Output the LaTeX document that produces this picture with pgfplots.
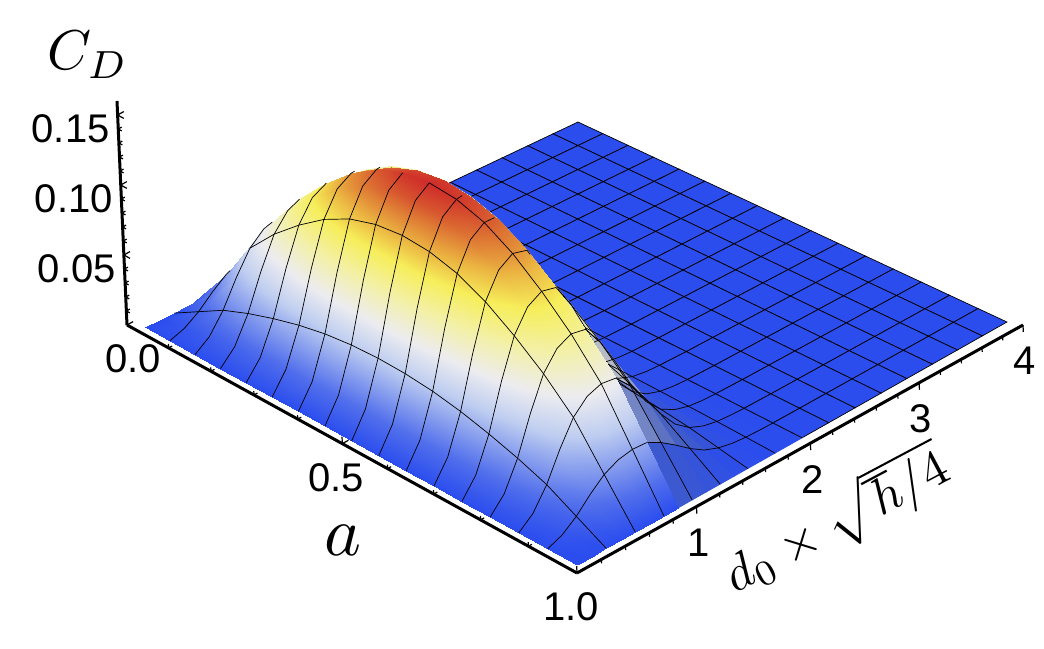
\documentclass[border=0pt]{standalone}
\usepackage{fontspec}
\setmainfont{Liberation Sans}
\usepackage{pgfplots}
\usepackage{pgfplotstable}
\usetikzlibrary{calc}
\pgfplotsset{compat=1.18}
\newcommand\W{(1-0.08263*\thisrow{a}+0.022425*\thisrow{d})}
\newcommand\X{(0.8785*\thisrow{a}+0.0201*\thisrow{d}+0.0241)/\W}
\newcommand\Y{(-0.00496*\thisrow{a}+0.9803*\thisrow{d}+0.0644)/\W}
\newcommand\Z{\thisrow{C}/\W}
\pgfplotstableread[row sep=\\]{
a d C\\
0 4 0\\.0625 4 0\\.125 4 0\\.1875 4 0\\.25 4 0\\.3125 4 0\\.375 4 0\\.4375 4 0\\.5 4 0\\.5625 4 0\\.625 4 0\\.6875 4 0\\.75 4 0\\.8125 4 0\\.875 4 0\\.9375 4 0\\1 4 0\\
0 3.75 0\\.0625 3.75 0\\.125 3.75 0\\.1875 3.75 0\\.25 3.75 0\\.3125 3.75 0\\.375 3.75 0\\.4375 3.75 0\\.5 3.75 0\\.5625 3.75 0\\.625 3.75 0\\.6875 3.75 0\\.75 3.75 0\\.8125 3.75 0\\.875 3.75 0\\.9375 3.75 0\\1 3.75 0\\
0 3.5 0\\.0625 3.5 0\\.125 3.5 0\\.1875 3.5 0\\.25 3.5 0\\.3125 3.5 0\\.375 3.5 0\\.4375 3.5 0\\.5 3.5 0\\.5625 3.5 0\\.625 3.5 0\\.6875 3.5 0\\.75 3.5 0\\.8125 3.5 0\\.875 3.5 0\\.9375 3.5 0\\1 3.5 0\\
0 3.25 0\\.0625 3.25 0\\.125 3.25 0\\.1875 3.25 0\\.25 3.25 0\\.3125 3.25 0\\.375 3.25 0\\.4375 3.25 0\\.5 3.25 0\\.5625 3.25 0\\.625 3.25 0\\.6875 3.25 0\\.75 3.25 0\\.8125 3.25 0\\.875 3.25 0\\.9375 3.25 0\\1 3.25 0\\
0 3 0\\.0625 3 0\\.125 3 0\\.1875 3 0\\.25 3 0\\.3125 3 0\\.375 3 0\\.4375 3 0\\.5 3 0\\.5625 3 0\\.625 3 0\\.6875 3 0\\.75 3 0\\.8125 3 0\\.875 3 0\\.9375 3 0\\1 3 0\\
0 2.75 0\\.0625 2.75 0\\.125 2.75 0\\.1875 2.75 0\\.25 2.75 0\\.3125 2.75 0\\.375 2.75 0\\.4375 2.75 0\\.5 2.75 0\\.5625 2.75 0\\.625 2.75 0\\.6875 2.75 0\\.75 2.75 0\\.8125 2.75 0\\.875 2.75 0\\.9375 2.75 0\\1 2.75 0\\
0 2.5 0\\.0625 2.5 0\\.125 2.5 0\\.1875 2.5 0\\.25 2.5 0\\.3125 2.5 0\\.375 2.5 0\\.4375 2.5 0\\.5 2.5 0\\.5625 2.5 0\\.625 2.5 0\\.6875 2.5 0\\.75 2.5 0\\.8125 2.5 0\\.875 2.5 0\\.9375 2.5 0\\1 2.5 0\\
0 2.25 0\\.0625 2.25 0\\.125 2.25 0\\.1875 2.25 0\\.25 2.25 0\\.3125 2.25 0\\.375 2.25 0\\.4375 2.25 0\\.5 2.25 0\\.5625 2.25 0\\.625 2.25 0\\.6875 2.25 0\\.75 2.25 0\\.8125 2.25 0\\.875 2.25 0\\.9375 2.25 0\\1 2.25 0\\
0 2 0\\.0625 2 .0001\\.125 2 .0002\\.1875 2 .0003\\.25 2 .0003\\.3125 2 .0004\\.375 2 .0004\\.4375 2 .0004\\.5 2 .0005\\.5625 2 .0004\\.625 2 .0004\\.6875 2 .0004\\.75 2 .0003\\.8125 2 .0003\\.875 2 .0002\\.9375 2 .0001\\1 2 0\\
}\B
\pgfplotstableread[row sep=\\]{
a d C\\
0 2 0\\.0625 2 .0001\\.125 2 .0002\\.1875 2 .0003\\.25 2 .0003\\.3125 2 .0004\\.375 2 .0004\\.4375 2 .0004\\.5 2 .0005\\.5625 2 .0004\\.625 2 .0004\\.6875 2 .0004\\.75 2 .0003\\.8125 2 .0003\\.875 2 .0002\\.9375 2 .0001\\1 2 0\\
0 1.875 0\\.0625 1.875 .0003\\.125 1.875 .0006\\.1875 1.875 .0007\\.25 1.875 .0009\\.3125 1.875 .0010\\.375 1.875 .0011\\.4375 1.875 .0012\\.5 1.875 .0012\\.5625 1.875 .0012\\.625 1.875 .0011\\.6875 1.875 .0010\\.75 1.875 .0009\\.8125 1.875 .0007\\.875 1.875 .0006\\.9375 1.875 .0003\\1 1.875 0\\
0 1.75 0\\.0625 1.75 .0007\\.125 1.75 .0014\\.1875 1.75 .0019\\.25 1.75 .0023\\.3125 1.75 .0026\\.375 1.75 .0028\\.4375 1.75 .0030\\.5 1.75 .0030\\.5625 1.75 .0030\\.625 1.75 .0028\\.6875 1.75 .0026\\.75 1.75 .0023\\.8125 1.75 .0019\\.875 1.75 .0014\\.9375 1.75 .0007\\1 1.75 0\\
0 1.625 0\\.0625 1.625 .0017\\.125 1.625 .0035\\.1875 1.625 .0047\\.25 1.625 .0056\\.3125 1.625 .0065\\.375 1.625 .0071\\.4375 1.625 .0074\\.5 1.625 .0075\\.5625 1.625 .0074\\.625 1.625 .0071\\.6875 1.625 .0065\\.75 1.625 .0056\\.8125 1.625 .0047\\.875 1.625 .0035\\.9375 1.625 .0017\\1 1.625 0\\
0 1.5 0\\.0625 1.5 .0038\\.125 1.5 .0076\\.1875 1.5 .0102\\.25 1.5 .0124\\.3125 1.5 .0142\\.375 1.5 .0155\\.4375 1.5 .0163\\.5 1.5 .0165\\.5625 1.5 .0163\\.625 1.5 .0155\\.6875 1.5 .0142\\.75 1.5 .0124\\.8125 1.5 .0102\\.875 1.5 .0076\\.9375 1.5 .0038\\1 1.5 0\\
0 1.375 0\\.0625 1.375 .0076\\.125 1.375 .0152\\.1875 1.375 .0205\\.25 1.375 .0248\\.3125 1.375 .0284\\.375 1.375 .0310\\.4375 1.375 .0325\\.5 1.375 .0330\\.5625 1.375 .0325\\.625 1.375 .0310\\.6875 1.375 .0284\\.75 1.375 .0248\\.8125 1.375 .0205\\.875 1.375 .0152\\.9375 1.375 .0076\\1 1.375 0\\
0 1.25 0\\.0625 1.25 .0138\\.125 1.25 .0276\\.1875 1.25 .0372\\.25 1.25 .0450\\.3125 1.25 .0516\\.375 1.25 .0564\\.4375 1.25 .0591\\.5 1.25 .0600\\.5625 1.25 .0591\\.625 1.25 .0564\\.6875 1.25 .0516\\.75 1.25 .0450\\.8125 1.25 .0372\\.875 1.25 .0276\\.9375 1.25 .0138\\1 1.25 0\\
0 1.125 0\\.0625 1.125 .0214\\.125 1.125 .0428\\.1875 1.125 .0577\\.25 1.125 .0698\\.3125 1.125 .0800\\.375 1.125 .0874\\.4375 1.125 .0916\\.5 1.125 .0930\\.5625 1.125 .0916\\.625 1.125 .0874\\.6875 1.125 .0800\\.75 1.125 .0698\\.8125 1.125 .0577\\.875 1.125 .0428\\.9375 1.125 .0214\\1 1.125 0\\
0 1 0\\.0625 1 .0283\\.125 1 .0566\\.1875 1 .0763\\.25 1 .0923\\.3125 1 .1058\\.375 1 .1156\\.4375 1 .1212\\.5 1 .1230\\.5625 1 .1212\\.625 1 .1156\\.6875 1 .1058\\.75 1 .0923\\.8125 1 .0763\\.875 1 .0566\\.9375 1 .0283\\1 1 0\\
0 .875 0\\.0625 .875 .0335\\.125 .875 .0669\\.1875 .875 .0902\\.25 .875 .1091\\.3125 .875 .1251\\.375 .875 .1368\\.4375 .875 .1433\\.5 .875 .1455\\.5625 .875 .1433\\.625 .875 .1368\\.6875 .875 .1251\\.75 .875 .1091\\.8125 .875 .0902\\.875 .875 .0669\\.9375 .875 .0335\\1 .875 0\\
}\TA
\pgfplotstableread[row sep=\\]{
a d C\\
0 .875 0\\.0625 .875 .0335\\.125 .875 .0669\\.1875 .875 .0902\\.25 .875 .1091\\.3125 .875 .1251\\.375 .875 .1368\\.4375 .875 .1433\\.5 .875 .1455\\.5625 .875 .1433\\.625 .875 .1368\\.6875 .875 .1251\\.75 .875 .1091\\.8125 .875 .0902\\.875 .875 .0669\\.9375 .875 .0335\\1 .875 0\\
0 .75 0\\.0625 .75 .0342\\.125 .75 .0683\\.1875 .75 .0921\\.25 .75 .1114\\.3125 .75 .1277\\.375 .75 .1396\\.4375 .75 .1463\\.5 .75 .1485\\.5625 .75 .1463\\.625 .75 .1396\\.6875 .75 .1277\\.75 .75 .1114\\.8125 .75 .0921\\.875 .75 .0683\\.9375 .75 .0342\\1 .75 0\\
0 .625 0\\.0625 .625 .0324\\.125 .625 .0649\\.1875 .625 .0874\\.25 .625 .1058\\.3125 .625 .1213\\.375 .625 .1325\\.4375 .625 .1389\\.5 .625 .1410\\.5625 .625 .1389\\.625 .625 .1325\\.6875 .625 .1213\\.75 .625 .1058\\.8125 .625 .0874\\.875 .625 .0649\\.9375 .625 .0324\\1 .625 0\\
0 .5 0\\.0625 .5 .0279\\.125 .5 .0559\\.1875 .5 .0753\\.25 .5 .0911\\.3125 .5 .1045\\.375 .5 .1142\\.4375 .5 .1197\\.5 .5 .1215\\.5625 .5 .1197\\.625 .5 .1142\\.6875 .5 .1045\\.75 .5 .0911\\.8125 .5 .0753\\.875 .5 .0559\\.9375 .5 .0279\\1 .5 0\\
0 .375 0\\.0625 .375 .0200\\.125 .375 .0400\\.1875 .375 .0539\\.25 .375 .0653\\.3125 .375 .0748\\.375 .375 .0818\\.4375 .375 .0857\\.5 .375 .0870\\.5625 .375 .0857\\.625 .375 .0818\\.6875 .375 .0748\\.75 .375 .0653\\.8125 .375 .0539\\.875 .375 .0400\\.9375 .375 .0200\\1 .375 0\\
0 .25 0\\.0625 .25 .0107\\.125 .25 .0214\\.1875 .25 .0288\\.25 .25 .0349\\.3125 .25 .0400\\.375 .25 .0437\\.4375 .25 .0458\\.5 .25 .0465\\.5625 .25 .0458\\.625 .25 .0437\\.6875 .25 .0400\\.75 .25 .0349\\.8125 .25 .0288\\.875 .25 .0214\\.9375 .25 .0107\\1 .25 0\\
0 .125 0\\.0625 .125 .0038\\.125 .125 .0076\\.1875 .125 .0102\\.25 .125 .0124\\.3125 .125 .0142\\.375 .125 .0155\\.4375 .125 .0163\\.5 .125 .0165\\.5625 .125 .0163\\.625 .125 .0155\\.6875 .125 .0142\\.75 .125 .0124\\.8125 .125 .0102\\.875 .125 .0076\\.9375 .125 .0038\\1 .125 0\\
0 0 0\\.0625 0 0\\.125 0 0\\.1875 0 0\\.25 0 0\\.3125 0 0\\.375 0 0\\.4375 0 0\\.5 0 0\\.5625 0 0\\.625 0 0\\.6875 0 0\\.75 0 0\\.8125 0 0\\.875 0 0\\.9375 0 0\\1 0 0\\
}\TB
\pgfplotstableread[row sep=\\]{
a d C\\
.0625 0 0\\.0625 .125 .0038\\.0625 .25 .0107\\.0625 .375 .0200\\.0625 .5 .0279\\.0625 .53 .0290\\
.125 0 0\\.125 .125 .0076\\.125 .25 .0214\\.125 .375 .0400\\.125 .5 .0559\\.125 .625 .0649\\.125 .7 .0669\\
.1875 0 0\\.1875 .125 .0102\\.1875 .25 .0288\\.1875 .375 .0539\\.1875 .5 .0753\\.1875 .625 .0874\\.1875 .73 .0915\\
.25 0 0\\.25 .125 .0124\\.25 .25 .0349\\.25 .375 .0653\\.25 .5 .0911\\.25 .625 .1058\\.25 .75 .1114\\
.3125 0 0\\.3125 .125 .0142\\.3125 .25 .0400\\.3125 .375 .0748\\.3125 .5 .1045\\.3125 .625 .1213\\.3125 .75 .1277\\.3125 .78 .1280\\
.375 0 0\\.375 .125 .0155\\.375 .25 .0437\\.375 .375 .0818\\.375 .5 .1142\\.375 .625 .1325\\.375 .75 .1396\\.375 .78 .1400\\
.4375 0 0\\.4375 .125 .0163\\.4375 .25 .0458\\.4375 .375 .0857\\.4375 .5 .1197\\.4375 .625 .1389\\.4375 .75 .1463\\
.5 0 0\\.5 .125 .0165\\.5 .25 .0465\\.5 .375 .0870\\.5 .5 .1215\\.5 .625 .1410\\.5 .75 .1485\\
.5625 0 0\\.5625 .125 .0163\\.5625 .25 .0458\\.5625 .375 .0857\\.5625 .5 .1197\\.5625 .625 .1389\\.5625 .75 .1463\\.5625 .8 .1470\\
.625 0 0\\.625 .125 .0155\\.625 .25 .0437\\.625 .375 .0818\\.625 .5 .1142\\.625 .625 .1325\\.625 .75 .1396\\.625 .84 .1395\\
.6875 0 0\\.6875 .125 .0142\\.6875 .25 .0400\\.6875 .375 .0748\\.6875 .5 .1045\\.6875 .625 .1213\\.6875 .75 .1277\\.6875 .875 .1251\\.6875 .9 .1213\\
.75 0 0\\.75 .125 .0124\\.75 .25 .0349\\.75 .375 .0653\\.75 .5 .0911\\.75 .625 .1058\\.75 .75 .1114\\.75 .875 .1091\\.75 .95 .0990\\
.8125 0 0\\.8125 .125 .0102\\.8125 .25 .0288\\.8125 .375 .0539\\.8125 .5 .0753\\.8125 .625 .0874\\.8125 .75 .0921\\.8125 .875 .0902\\.8125 1 .0763\\
.875 0 0\\.875 .125 .0076\\.875 .25 .0214\\.875 .375 .0400\\.875 .5 .0559\\.875 .625 .0649\\.875 .75 .0683\\.875 .875 .0669\\.875 1 .0566\\
.9375 0 0\\.9375 .125 .0038\\.9375 .25 .0107\\.9375 .375 .0200\\.9375 .5 .0279\\.9375 .625 .0324\\.9375 .75 .0342\\.9375 .875 .0335\\.9375 1 .0283\\
}\FL
\pgfplotstableread[row sep=\\]{
a d C\\
.5 2 .0005\\.5 1.875 .0012\\.5 1.75 .0030\\.5 1.625 .0075\\.5 1.5 .0165\\.5 1.375 .0330\\.5 1.25 .0600\\.5 1.125 .0930\\.5 1 .1230\\.5 .875 .1455\\
.5625 2 .0004\\.5625 1.875 .0012\\.5625 1.75 .0030\\.5625 1.625 .0074\\.5625 1.5 .0163\\.5625 1.375 .0325\\.5625 1.25 .0591\\.5625 1.125 .0916\\.5625 1 .1212\\.5625 .875 .1433\\
.625 2 .0004\\.625 1.875 .0011\\.625 1.75 .0028\\.625 1.625 .0071\\.625 1.5 .0155\\.625 1.375 .0310\\.625 1.25 .0564\\.625 1.125 .0874\\.625 1 .1156\\.625 .875 .1368\\
.6875 2 .0004\\.6875 1.875 .0010\\.6875 1.75 .0026\\.6875 1.625 .0065\\.6875 1.5 .0142\\.6875 1.375 .0284\\.6875 1.25 .0516\\.6875 1.125 .0800\\.6875 1 .1058\\.6875 .875 .1251\\
.75 2 .0003\\.75 1.875 .0009\\.75 1.75 .0023\\.75 1.625 .0056\\.75 1.5 .0124\\.75 1.375 .0248\\.75 1.25 .0450\\.75 1.125 .0698\\.75 1 .0923\\.75 .875 .1091\\
.8125 2 .0003\\.8125 1.875 .0007\\.8125 1.75 .0019\\.8125 1.625 .0047\\.8125 1.5 .0102\\.8125 1.375 .0205\\.8125 1.25 .0372\\.8125 1.125 .0577\\.8125 1 .0763\\.8125 .875 .0902\\
.875 2 .0002\\.875 1.875 .0006\\.875 1.75 .0014\\.875 1.625 .0035\\.875 1.5 .0076\\.875 1.375 .0152\\.875 1.25 .0276\\.875 1.125 .0428\\.875 1 .0566\\.875 .875 .0669\\
.9375 2 .0001\\.9375 1.875 .0003\\.9375 1.75 .0007\\.9375 1.625 .0017\\.9375 1.5 .0038\\.9375 1.375 .0076\\.9375 1.25 .0138\\.9375 1.125 .0214\\.9375 1 .0283\\.9375 .875 .0335\\
}\BL
\pgfplotsset{
 colormap={cdb}{rgb255(0pt)=(43,77,238);rgb255(10pt)=(55,85,215);rgb255(30pt)=(75,100,190);rgb255(60pt)=(150,160,205);rgb255(90pt)=(225,225,190);rgb255(150pt)=(246,238,90)},
 colormap={cd}{rgb255(0pt)=(43,77,238);rgb255(15pt)=(80,110,236);rgb255(46pt)=(190,205,240);rgb255(65pt)=(236,236,240);rgb255(85pt)=(243,240,170);rgb255(105pt)=(246,238,90);rgb255(120pt)=(235,180,65);rgb255(135pt)=(220,110,50);rgb255(150pt)=(205,35,40)},
 gl/.style={black,line width=0.35pt,no markers},
 rng/.style 2 args={skip coords between index={0}{#1},skip coords between index={#2}{9999}},
 srf/.style={surf,shader=interp,z buffer=none,mesh/cols=17,point meta=\thisrow{C}},
}
\tikzset{tlab/.style={font=\fontsize{20}{24}\selectfont,anchor=center}}
\begin{document}
\begin{tikzpicture}
\begin{axis}[
 x={(225pt,-124pt)},y={(55.75pt,31pt)},z={(-31.25pt,700pt)},
 xmin=0,xmax=1,ymin=0,ymax=4,zmin=0,zmax=0.16,
 clip=false,
 axis x line*=bottom,axis y line=none,axis z line*=left,
 axis line style={line width=1.5pt},
 tick style={black,line width=0.6pt},
 tick align=inside,
 major tick length=3.5pt,minor tick length=2pt,
 xtick={0,0.4785,1},xticklabels={\hspace*{12pt}0.0,0.5,1.0},
 minor xtick={0.0925,0.1866,0.2822,0.3795,0.5791,0.6816,0.7858,0.8920},
 ztick={0.05,0.10,0.15},zticklabels={0.05,0.10,0.15},
 minor ztick={0.01,0.02,0.03,0.04,0.06,0.07,0.08,0.09,0.11,0.12,0.13,0.14},
 xticklabel style={tlab,xshift=-3pt,yshift=-17pt},
 zticklabel style={tlab,xshift=-23.5pt,yshift=-7pt},
 xlabel={$a$},zlabel={$C_D$},
 every axis x label/.style={at={(axis cs:0.673,-0.777,0)},anchor=center,scale=3.5},
 every axis z label/.style={at={(axis cs:-0.5855,2.013,0)},anchor=center,scale=2.8},
 colormap name=cd,
 point meta min=0,point meta max=0.15,
]
\coordinate (O) at (axis cs:0,0,0);
% far flat part
\addplot3[surf,shader=faceted,faceted color=black,line width=0.35pt,z buffer=none,mesh/cols=17,point meta=\thisrow{C}]
 table[x expr=\X,y expr=\Y,z expr=\Z]{\B};
% back slope, d from 2 to 0.875
\addplot3[surf,shader=flat mean,colormap name=cdb,z buffer=none,mesh/cols=17,point meta=\thisrow{C}] table[x expr=\X,y expr=\Y,z expr=\Z]{\TA};
\addplot3[gl,rng={0}{17}] table[x expr=\X,y expr=\Y,z expr=\Z]{\TA};
\addplot3[gl,rng={34}{51}] table[x expr=\X,y expr=\Y,z expr=\Z]{\TA};
\addplot3[gl,rng={68}{85}] table[x expr=\X,y expr=\Y,z expr=\Z]{\TA};
\addplot3[gl,rng={102}{119}] table[x expr=\X,y expr=\Y,z expr=\Z]{\TA};
\addplot3[gl,rng={136}{153}] table[x expr=\X,y expr=\Y,z expr=\Z]{\TA};
\addplot3[gl,rng={0}{10}] table[x expr=\X,y expr=\Y,z expr=\Z]{\BL};
\addplot3[gl,rng={10}{20}] table[x expr=\X,y expr=\Y,z expr=\Z]{\BL};
\addplot3[gl,rng={20}{30}] table[x expr=\X,y expr=\Y,z expr=\Z]{\BL};
\addplot3[gl,rng={30}{40}] table[x expr=\X,y expr=\Y,z expr=\Z]{\BL};
\addplot3[gl,rng={40}{50}] table[x expr=\X,y expr=\Y,z expr=\Z]{\BL};
\addplot3[gl,rng={50}{60}] table[x expr=\X,y expr=\Y,z expr=\Z]{\BL};
\addplot3[gl,rng={60}{70}] table[x expr=\X,y expr=\Y,z expr=\Z]{\BL};
\addplot3[gl,rng={70}{80}] table[x expr=\X,y expr=\Y,z expr=\Z]{\BL};
% front part, d from 0.875 to 0
\addplot3[srf] table[x expr=\X,y expr=\Y,z expr=\Z]{\TB};
\addplot3[gl,rng={25}{34}] table[x expr=\X,y expr=\Y,z expr=\Z]{\TB};
\addplot3[gl,rng={53}{68}] table[x expr=\X,y expr=\Y,z expr=\Z]{\TB};
\addplot3[gl,rng={85}{102}] table[x expr=\X,y expr=\Y,z expr=\Z]{\TB};
\addplot3[gl,rng={0}{6}] table[x expr=\X,y expr=\Y,z expr=\Z]{\FL};
\addplot3[gl,rng={6}{13}] table[x expr=\X,y expr=\Y,z expr=\Z]{\FL};
\addplot3[gl,rng={13}{20}] table[x expr=\X,y expr=\Y,z expr=\Z]{\FL};
\addplot3[gl,rng={20}{27}] table[x expr=\X,y expr=\Y,z expr=\Z]{\FL};
\addplot3[gl,rng={27}{35}] table[x expr=\X,y expr=\Y,z expr=\Z]{\FL};
\addplot3[gl,rng={35}{43}] table[x expr=\X,y expr=\Y,z expr=\Z]{\FL};
\addplot3[gl,rng={43}{50}] table[x expr=\X,y expr=\Y,z expr=\Z]{\FL};
\addplot3[gl,rng={50}{57}] table[x expr=\X,y expr=\Y,z expr=\Z]{\FL};
\addplot3[gl,rng={57}{65}] table[x expr=\X,y expr=\Y,z expr=\Z]{\FL};
\addplot3[gl,rng={65}{73}] table[x expr=\X,y expr=\Y,z expr=\Z]{\FL};
\addplot3[gl,rng={73}{82}] table[x expr=\X,y expr=\Y,z expr=\Z]{\FL};
\addplot3[gl,rng={82}{91}] table[x expr=\X,y expr=\Y,z expr=\Z]{\FL};
\addplot3[gl,rng={91}{100}] table[x expr=\X,y expr=\Y,z expr=\Z]{\FL};
\addplot3[gl,rng={100}{109}] table[x expr=\X,y expr=\Y,z expr=\Z]{\FL};
\addplot3[gl,rng={109}{118}] table[x expr=\X,y expr=\Y,z expr=\Z]{\FL};
\end{axis}
\begin{axis}[
 xshift=230pt,yshift=-236pt,
 x={(225pt,-124pt)},y={(55.75pt,31pt)},z={(-31.25pt,700pt)},
 xmin=0,xmax=1,ymin=0,ymax=4,zmin=0,zmax=0.16,
 clip=false,
 axis x line*=bottom,axis y line*=right,axis z line*=left,
 axis line style={line width=1.5pt},
 x axis line style={draw=none},z axis line style={draw=none},
 xtick=\empty,ztick=\empty,
 tick style={black,line width=0.6pt},
 tick align=inside,
 major tick length=3.5pt,minor tick length=2pt,
 ytick={1.0716,2.0932,3.0683,4},yticklabels={1,2,3,4},
 minor ytick={0.2185,0.4349,0.6492,0.8614,1.2798,1.4860,1.6903,1.8928,2.2918,2.4887,2.6837,2.8769,3.2580,3.4461,3.6323,3.8170},
 yticklabel style={tlab,xshift=1pt,yshift=-18pt},
 ylabel={$d_0\times\sqrt{\vphantom{(}\hbar/4}$},
 every axis y label/.style={at={(axis cs:0.187,1.572,0.16)},anchor=center,scale=2.55,rotate=28},
]
\addplot3[draw=none,forget plot] coordinates {(0,0,0)(1,4,0.16)};
\end{axis}
\pgfresetboundingbox
\path[use as bounding box] ($(O)+(-63.5pt,162.5pt)$) rectangle ++(522pt,-324pt);
\end{tikzpicture}
\end{document}
